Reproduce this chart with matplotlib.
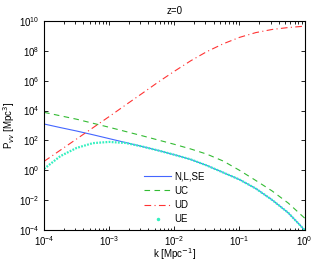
import matplotlib
matplotlib.use("Agg")
import matplotlib.pyplot as plt
from matplotlib.lines import Line2D
import numpy as np

plt.rcParams['font.family'] = ['Liberation Sans', 'DejaVu Sans']
plt.rcParams['font.size'] = 7

# log10 k [Mpc^-1]
logk = [-4, -3.75, -3.5, -3.25, -3, -2.75, -2.5, -2.25, -2, -1.75, -1.5, -1.25, -1, -0.75, -0.5, -0.25, 0]
# log10 P_vv [Mpc^3]
nlse = [3.1, 2.86, 2.63, 2.38, 2.12, 1.86, 1.6, 1.33, 1.04, 0.73, 0.32, -0.15, -0.62, -1.22, -1.98, -2.85, -4.0]
uc = [3.88, 3.65, 3.42, 3.15, 2.88, 2.6, 2.32, 2.03, 1.74, 1.43, 1.08, 0.62, 0.0, -0.68, -1.38, -2.2, -3.2]
ud = [0.6, 1.35, 2.1, 2.85, 3.6, 4.37, 5.13, 5.9, 6.63, 7.33, 7.95, 8.47, 8.9, 9.22, 9.43, 9.56, 9.65]
ue = [0.1, 0.95, 1.5, 1.82, 1.9, 1.83, 1.6, 1.33, 1.04, 0.73, 0.32, -0.15, -0.62, -1.22, -1.98, -2.85, -4.0]

k = 10.0 ** np.array(logk)

fig = plt.figure(figsize=(3.15, 2.62), dpi=100)
ax = fig.add_axes([0.14, 0.122, 0.827, 0.798])

ax.plot(k, 10.0 ** np.array(nlse), color='#4466ff', lw=0.8, label='N,L,SE')
ax.plot(k, 10.0 ** np.array(uc), color='#33bb33', lw=0.8, ls=(0, (5, 4)), label='UC')
ax.plot(k, 10.0 ** np.array(ud), color='#ff3333', lw=0.8, ls=(0, (6, 3, 1, 3)), label='UD')
ax.plot(k, 10.0 ** np.array(ue), color='#33f0c0', lw=1.6, ls=(0, (0.8, 0.6)))

ax.set_xscale('log')
ax.set_yscale('log')
ax.set_xlim(1e-4, 1)
ax.set_ylim(1e-4, 1e10)
ax.set_yticks([10.0 ** e for e in range(-4, 11, 2)])
ax.yaxis.set_minor_locator(matplotlib.ticker.NullLocator())
ax.tick_params(which='both', direction='in', top=True, right=True, length=3, width=0.6)
ax.tick_params(which='minor', length=1.8)
ax.tick_params(axis='x', pad=3)
for s in ax.spines.values():
    s.set_linewidth(0.8)

ax.set_title('z=0', fontsize=7, pad=5)
ax.set_xlabel('k [Mpc$^{-1}$]', labelpad=-1)
ax.set_ylabel('P$_{vv}$ [Mpc$^3$]', labelpad=1)

handles, labels = ax.get_legend_handles_labels()
handles.append(Line2D([], [], color='#33f0c0', marker='.', ms=3, ls='none'))
labels.append('UE')
ax.legend(handles, labels, frameon=False, loc='lower right', bbox_to_anchor=(0.65, -0.015),
          handlelength=2.8, labelspacing=0.45, handletextpad=0.3, fontsize=7)

fig.savefig('out.png', dpi=100)
